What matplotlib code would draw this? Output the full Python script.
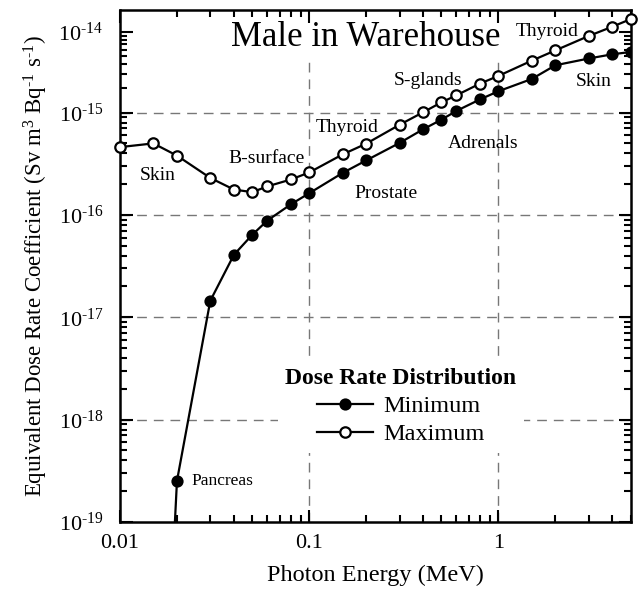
import numpy as np
import matplotlib
matplotlib.use('Agg')
import matplotlib.pyplot as plt
from matplotlib.ticker import LogLocator, FuncFormatter, FixedLocator, FixedFormatter, NullFormatter

plt.rcParams['font.family'] = ['Liberation Serif', 'DejaVu Serif']
plt.rcParams['mathtext.fontset'] = 'custom'
plt.rcParams['mathtext.rm'] = 'Liberation Serif'
plt.rcParams['mathtext.it'] = 'Liberation Serif:italic'
plt.rcParams['mathtext.bf'] = 'Liberation Serif:bold'

# photon energies (MeV)
energy = [0.01, 0.015, 0.02, 0.03, 0.04, 0.05, 0.06, 0.08, 0.1, 0.15, 0.2,
          0.3, 0.4, 0.5, 0.6, 0.8, 1, 1.5, 2, 3, 4, 5]
# equivalent dose rate coefficient, Sv m^3 Bq^-1 s^-1
dose_max = [4.6e-16, 5.0e-16, 3.8e-16, 2.3e-16, 1.77e-16, 1.67e-16, 1.9e-16,
            2.22e-16, 2.6e-16, 3.9e-16, 4.97e-16, 7.6e-16, 1.01e-15, 1.34e-15,
            1.64e-15, 2.29e-15, 2.85e-15, 4.4e-15, 5.9e-15, 8.9e-15, 1.16e-14, 1.44e-14]
energy_min = energy[1:]
dose_min = [6e-24, 2.52e-19, 1.45e-17, 4.08e-17, 6.4e-17, 8.8e-17, 1.27e-16,
            1.63e-16, 2.57e-16, 3.41e-16, 5.05e-16, 6.87e-16, 8.54e-16, 1.05e-15,
            1.46e-15, 1.84e-15, 2.61e-15, 3.86e-15, 4.68e-15, 5.28e-15, 5.64e-15]

# organ labels: text, energy, value
labels = [('Thyroid', 1.8, 1.0e-14), ('S-glands', 0.426, 2.5e-15),
          ('Skin', 3.2, 2.4e-15), ('Thyroid', 0.158, 7.2e-16),
          ('Adrenals', 0.83, 5.0e-16), ('B-surface', 0.0593, 3.6e-16),
          ('Skin', 0.0159, 2.45e-16), ('Prostate', 0.253, 1.63e-16)]

# top decade of the y axis is drawn shorter than the others
BRK = -15.0
K = 80.6 / 102.2

def fwd(y):
    l = np.log10(np.clip(y, 1e-300, None))
    return np.where(l > BRK, BRK + (l - BRK) * K, l)

def inv(v):
    return 10.0 ** np.where(v > BRK, BRK + (v - BRK) / K, v)

fig = plt.figure(figsize=(6.4, 5.89), dpi=100)
ax = fig.add_axes([0.1875, 0.1138, 0.798, 0.869])
ax.set_xscale('log')
ax.set_yscale('function', functions=(fwd, inv))
ax.set_xlim(0.01, 5)
ax.set_ylim(1e-19, 1.86e-14)

# dashed grid; vertical lines stop below the title
for g in [1e-15, 1e-16, 1e-17, 1e-18]:
    ax.axhline(g, color='#777777', lw=1, ls=(0, (7, 5)), zorder=1)
ax.vlines([0.1, 1], 1e-19, 4.7e-15, color='#777777', lw=1, ls=(0, (7, 5)), zorder=1)

ax.plot(energy_min, dose_min, '-o', color='black', lw=1.6, ms=7.5,
        mfc='black', mec='black', mew=1.3, label='Minimum', zorder=3)
ax.plot(energy, dose_max, '-o', color='black', lw=1.6, ms=7.5,
        mfc='white', mec='black', mew=1.6, label='Maximum', zorder=3, clip_on=False)

ax.text(0.198, 8.4e-15, 'Male in Warehouse', fontsize=25, ha='center', va='center')
for txt, x, y in labels:
    ax.text(x, y, txt, fontsize=14, ha='center', va='center')
ax.text(0.0238, 2.5e-19, 'Pancreas', fontsize=12.5, ha='left', va='center')

leg = ax.legend(loc='center', bbox_to_anchor=(0.55, 0.225), fontsize=17.5,
                title='Dose Rate Distribution', frameon=True, handlelength=2.3,
                borderpad=0.3, labelspacing=0.25, handletextpad=0.4)
leg.get_title().set_fontsize(17)
leg.get_title().set_fontweight('bold')
leg.get_frame().set_edgecolor('none')
leg.get_frame().set_facecolor('white')
leg.get_frame().set_alpha(1)
leg.set_zorder(2)

ax.yaxis.set_major_locator(FixedLocator([1e-19, 1e-18, 1e-17, 1e-16, 1e-15, 1e-14]))
ax.yaxis.set_major_formatter(FuncFormatter(
    lambda v, p: r'$10^{\text{-%d}}$' % int(round(-np.log10(v)))))
ax.yaxis.set_minor_locator(LogLocator(base=10, subs=np.arange(2, 10), numticks=30))
ax.yaxis.set_minor_formatter(NullFormatter())
ax.xaxis.set_major_locator(FixedLocator([0.01, 0.1, 1]))
ax.xaxis.set_major_formatter(FixedFormatter(['0.01', '0.1', '1']))

ax.tick_params(which='both', direction='in', top=True, right=True, width=1.5)
ax.tick_params(which='major', length=9, labelsize=16)
ax.tick_params(axis='y', which='major', pad=12)
ax.tick_params(axis='x', which='major', pad=9)
ax.tick_params(which='minor', length=5)
for s in ax.spines.values():
    s.set_linewidth(1.8)

ax.set_xlabel('Photon Energy (MeV)', fontsize=17.5, labelpad=8)
ax.set_ylabel(r'Equivalent Dose Rate Coefficient (Sv m$^{3}$ Bq$^{\text{-1}}$ s$^{\text{-1}}$)',
              fontsize=16.5, labelpad=6)

fig.savefig('out.png', dpi=100)
